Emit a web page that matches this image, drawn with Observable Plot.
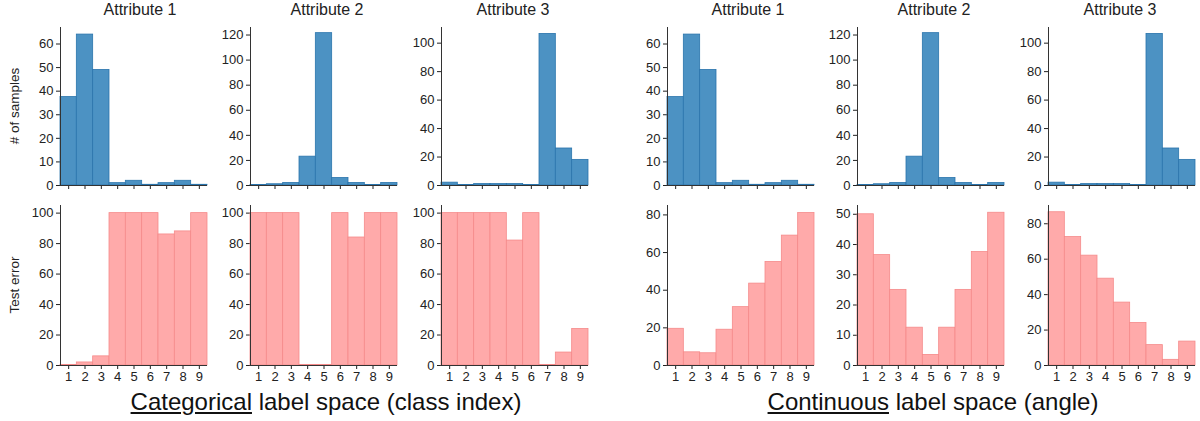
<!DOCTYPE html>
<html>
<head>
<meta charset="utf-8">
<script src="https://cdn.jsdelivr.net/npm/d3@7"></script>
<script src="https://cdn.jsdelivr.net/npm/@observablehq/plot@0.6"></script>
<style>
  html, body { margin: 0; padding: 0; background: #fff; }
  #root { position: relative; width: 1200px; height: 421px; overflow: hidden; font-family: "Liberation Sans", Arial, sans-serif; color: #222; }
  .lbl { position: absolute; white-space: nowrap; }
</style>
</head>
<body>
<div id="root"></div>
<script>
// ---------- data ----------
const attributes = ["Attribute 1", "Attribute 2", "Attribute 3"];
const classIndex = [1, 2, 3, 4, 5, 6, 7, 8, 9];

const samplesAttr1 = [37.5, 64, 49, 1, 2, 0.3, 1, 2, 0.3];
const samplesAttr2 = [0.4, 1, 2, 23, 121.5, 6, 2, 0.4, 2];
const samplesAttr3 = [2, 0.4, 1, 1, 1, 0.4, 106.5, 26, 18];

const catErrAttr1 = [0.4, 2, 6, 100, 100, 100, 86, 88, 100];
const catErrAttr2 = [100, 100, 100, 0.4, 0.4, 100, 84, 100, 100];
const catErrAttr3 = [100, 100, 100, 100, 82, 100, 0.4, 8.5, 24];

const contErrAttr1 = [19.5, 7, 6.5, 19, 31, 43.5, 55, 69, 81];
const contErrAttr2 = [50, 36.5, 25, 12.5, 3.5, 12.5, 25, 37.5, 50.5];
const contErrAttr3 = [86.5, 72.5, 62, 49, 35.5, 24, 11.5, 3.2, 13.5];

const samplesYMax = [67, 126, 111];
const samplesYTicks = [[0, 10, 20, 30, 40, 50, 60], [0, 20, 40, 60, 80, 100, 120], [0, 20, 40, 60, 80, 100]];
const catErrYMax = [105, 105, 105];
const catErrYTicks = [[0, 20, 40, 60, 80, 100], [0, 20, 40, 60, 80, 100], [0, 20, 40, 60, 80, 100]];
const contErrYMax = [85, 52.9, 90.3];
const contErrYTicks = [[0, 20, 40, 60, 80], [0, 10, 20, 30, 40, 50], [0, 20, 40, 60, 80]];

const yLabelTop = "# of samples";
const yLabelBottom = "Test error";
const groupUnderlined = ["Categorical", "Continuous"];
const groupRest = [" label space (class index)", " label space (angle)"];

// ---------- layout ----------
const root = document.getElementById("root");
const FONT = "'Liberation Sans', Arial, sans-serif";
const plotLefts = [60, 250, 441, 667, 857, 1048];
const plotW = 147;
const ML = 45, MR = 8;
const titleCenters = [140, 327, 513, 748, 934, 1120];

function panel(values, ymax, yticks, fill, stroke, showLabels, left, top, height, mt, mb) {
  const data = values.map((v, i) => ({k: classIndex[i], v}));
  const chart = Plot.plot({
    width: ML + plotW + MR,
    height,
    marginLeft: ML, marginRight: MR, marginTop: mt, marginBottom: mb,
    style: {fontFamily: FONT, fontSize: "13px", color: "#222", background: "transparent", overflow: "visible"},
    x: {domain: [0.5, 9.5], ticks: classIndex, tickSize: 4, tickPadding: 2,
        tickFormat: showLabels ? (d => String(d)) : (() => ""), label: null},
    y: {domain: [0, ymax], ticks: yticks, tickSize: 4, tickPadding: 3, label: null},
    marks: [
      Plot.rect(data, {x1: d => d.k - 0.5, x2: d => d.k + 0.5, y1: 0, y2: "v",
        fill, stroke, strokeWidth: 0.8}),
      Plot.ruleX([0.5], {stroke: "#333", strokeWidth: 1}),
      Plot.ruleY([0], {stroke: "#333", strokeWidth: 1})
    ]
  });
  chart.style.position = "absolute";
  chart.style.left = (left - ML) + "px";
  chart.style.top = top + "px";
  root.appendChild(chart);
}

const BLUE_FILL = "#4c92c3", BLUE_STROKE = "#2a74ac";
const PINK_FILL = "#ffaaaa", PINK_STROKE = "#f58a8a";

const samples = [samplesAttr1, samplesAttr2, samplesAttr3];
const catErr = [catErrAttr1, catErrAttr2, catErrAttr3];
const contErr = [contErrAttr1, contErrAttr2, contErrAttr3];

for (let g = 0; g < 2; g++) {
  for (let a = 0; a < 3; a++) {
    const idx = g * 3 + a;
    panel(samples[a], samplesYMax[a], samplesYTicks[a], BLUE_FILL, BLUE_STROKE, false,
          plotLefts[idx], 0, 200, 27, 15);
    if (g === 0) {
      panel(catErr[a], catErrYMax[a], catErrYTicks[a], PINK_FILL, PINK_STROKE, true,
            plotLefts[idx], 195, 200, 10, 30);
    } else {
      panel(contErr[a], contErrYMax[a], contErrYTicks[a], PINK_FILL, PINK_STROKE, true,
            plotLefts[idx], 195, 200, 10, 30);
    }
    const t = document.createElement("div");
    t.className = "lbl";
    t.textContent = attributes[a];
    t.style.cssText += `left:${titleCenters[idx]}px;top:1.5px;font-size:16px;line-height:16px;transform:translateX(-50%);`;
    root.appendChild(t);
  }
}

function yLabel(text, cx, cy) {
  const d = document.createElement("div");
  d.className = "lbl";
  d.textContent = text;
  d.style.cssText += `left:${cx}px;top:${cy}px;font-size:13.5px;line-height:14px;transform:translate(-50%,-50%) rotate(-90deg);`;
  root.appendChild(d);
}
yLabel(yLabelTop, 15, 106);
yLabel(yLabelBottom, 15, 285);

const groupCenters = [326, 933];
for (let g = 0; g < 2; g++) {
  const d = document.createElement("div");
  d.className = "lbl";
  const u = document.createElement("u");
  u.textContent = groupUnderlined[g];
  d.appendChild(u);
  d.appendChild(document.createTextNode(groupRest[g]));
  d.style.cssText += `left:${groupCenters[g]}px;top:390px;font-size:24px;line-height:24px;transform:translateX(-50%);color:#111;`;
  root.appendChild(d);
}
</script>
</body>
</html>
